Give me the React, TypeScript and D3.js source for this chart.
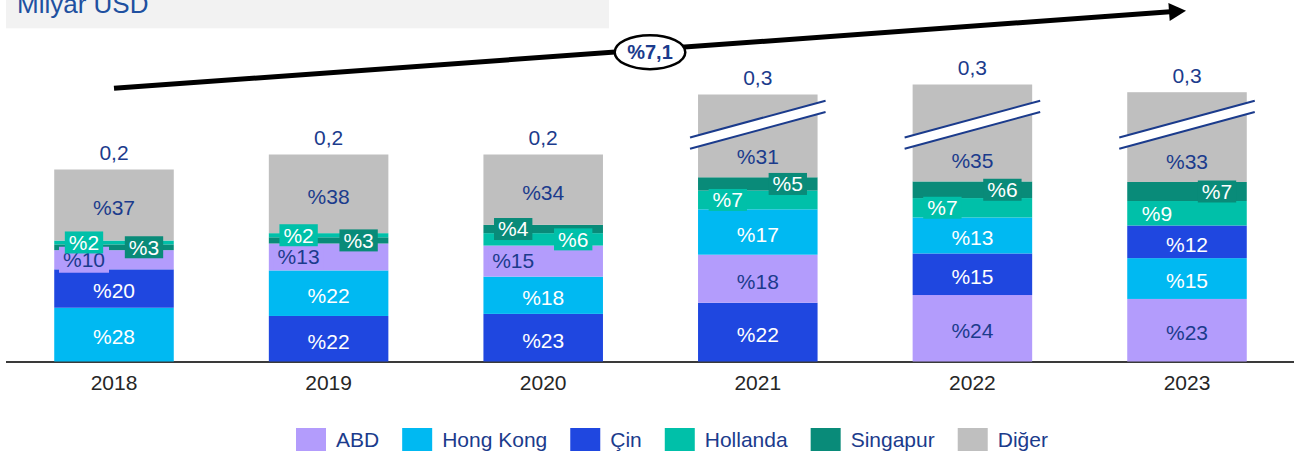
import React from 'react';
import * as d3 from 'd3';

// ---- Data (Milyar USD, shares in %) ----
const years = ['2018', '2019', '2020', '2021', '2022', '2023'];
const totals = [0.192, 0.207, 0.207, 0.267, 0.277, 0.272];
const seriesNames = ['ABD', 'Hong Kong', 'Çin', 'Hollanda', 'Singapur', 'Diğer'];
const abd = [10, 13, 15, 18, 24, 23];
const hongKong = [28, 22, 18, 17, 13, 15];
const cin = [20, 22, 23, 22, 15, 12];
const hollanda = [2, 2, 6, 7, 7, 9];
const singapur = [3, 3, 4, 5, 6, 7];
const diger = [37, 38, 34, 31, 35, 33];
const stackOrder = [
  ['Hong Kong', 'Çin', 'ABD', 'Singapur', 'Hollanda', 'Diğer'],
  ['Çin', 'Hong Kong', 'ABD', 'Singapur', 'Hollanda', 'Diğer'],
  ['Çin', 'Hong Kong', 'ABD', 'Hollanda', 'Singapur', 'Diğer'],
  ['Çin', 'ABD', 'Hong Kong', 'Hollanda', 'Singapur', 'Diğer'],
  ['ABD', 'Çin', 'Hong Kong', 'Hollanda', 'Singapur', 'Diğer'],
  ['ABD', 'Hong Kong', 'Çin', 'Hollanda', 'Singapur', 'Diğer'],
];
const abdSide = ['left', 'left', 'left', 'center', 'center', 'center'];
const hollandaSide = ['left', 'left', 'right', 'left', 'left', 'left'];
const singapurSide = ['right', 'right', 'left', 'right', 'right', 'right'];
const brokenBars = [false, false, false, true, true, true];
const cagrLabel = '%7,1';
const unitLabel = 'Milyar USD';

const seriesValues: Record<string, number[]> = {
  'ABD': abd,
  'Hong Kong': hongKong,
  'Çin': cin,
  'Hollanda': hollanda,
  'Singapur': singapur,
  'Diğer': diger,
};
const sideOf: Record<string, string[]> = {
  'ABD': abdSide,
  'Hollanda': hollandaSide,
  'Singapur': singapurSide,
};

const colors: Record<string, string> = {
  'ABD': '#B39CFC',
  'Hong Kong': '#00B9F2',
  'Çin': '#1F47E0',
  'Hollanda': '#00C0A9',
  'Singapur': '#098B79',
  'Diğer': '#BFBFBF',
};
const textColors: Record<string, string> = {
  'ABD': '#1B3B8C',
  'Hong Kong': '#FFFFFF',
  'Çin': '#FFFFFF',
  'Hollanda': '#FFFFFF',
  'Singapur': '#FFFFFF',
  'Diğer': '#1B3B8C',
};

const W = 1300;
const H = 458;
const FONT = "'Liberation Sans', Arial, sans-serif";
const NAVY = '#1B3B8C';

let ctx: CanvasRenderingContext2D | null = null;
function measure(text: string, size: number, weight = 'normal') {
  if (!ctx) ctx = document.createElement('canvas').getContext('2d');
  if (!ctx) return text.length * size * 0.55;
  ctx.font = `${weight} ${size}px 'Liberation Sans', Arial, sans-serif`;
  return ctx.measureText(text).width;
}

export default function App() {
  const baseline = 361.5;
  const x = d3.scaleBand<string>().domain(years).range([6.7, 1294.3]).paddingInner(0.443).paddingOuter(0.2215);
  const y = d3.scaleLinear().domain([0, 0.3]).range([baseline, 61.5]);
  const bw = x.bandwidth();
  const fmt = d3.format('.1f');
  const labelSize = 21;

  // arrow geometry
  const ax0 = 114, ay0 = 88.3, tipX = 1186, tipY = 10.7;
  const len = Math.hypot(tipX - ax0, tipY - ay0);
  const ux = (tipX - ax0) / len, uy = (tipY - ay0) / len;
  const headL = 17, headW = 9;
  const bx = tipX - ux * headL, by = tipY - uy * headL;
  const head = [
    [tipX, tipY],
    [bx - uy * headW, by + ux * headW],
    [bx + uy * headW, by - ux * headW],
  ];

  const breakY = 124.7;
  const breakSlope = -36.6 / 135;
  const breakGap = 11.3;

  // legend layout
  const legendItems: { name: string; sx: number; tx: number }[] = [];
  let cursor = 296;
  seriesNames.forEach((name) => {
    legendItems.push({ name, sx: cursor, tx: cursor + 40 });
    cursor = cursor + 40 + measure(name, labelSize) + 23;
  });

  return (
    <svg width={W} height={H} style={{ position: 'absolute', left: 0, top: 0, background: '#fff' }} fontFamily={FONT}>
      {/* title box */}
      <rect x={6} y={0} width={603} height={28.3} fill="#F2F2F2" />
      <text x={17} y={13.3} fontSize={26} fill="#2050A0">{unitLabel}</text>

      {/* axis line */}
      <line x1={6} x2={1294} y1={baseline + 0.5} y2={baseline + 0.5} stroke="#3A3A3A" strokeWidth={2} />

      {years.map((yr, i) => {
        const cx = (x(yr) as number) + bw / 2;
        const x0 = x(yr) as number;
        const total = totals[i];
        let acc = 0;
        const segs = stackOrder[i].map((name) => {
          const v = (total * seriesValues[name][i]) / 100;
          const s = { name, y0: acc, y1: acc + v, pct: seriesValues[name][i] };
          acc += v;
          return s;
        });
        const top = y(segs[segs.length - 1].y1);
        const hl = bw / 2 + 8;
        const up = (xx: number) => breakY - breakGap / 2 + breakSlope * (xx - cx);
        const lo = (xx: number) => breakY + breakGap / 2 + breakSlope * (xx - cx);
        const labelOrder = ['Hong Kong', 'Çin', 'Diğer', 'ABD', 'Singapur', 'Hollanda'];
        return (
          <g key={yr}>
            {segs.map((s) => (
              <rect key={s.name} x={x0} width={bw} y={y(s.y1)} height={y(s.y0) - y(s.y1)} fill={colors[s.name]} />
            ))}
            {brokenBars[i] && (
              <g>
                <polygon
                  points={`${cx - hl},${up(cx - hl)} ${cx + hl},${up(cx + hl)} ${cx + hl},${lo(cx + hl)} ${cx - hl},${lo(cx - hl)}`}
                  fill="#fff"
                />
                <line x1={cx - hl} y1={up(cx - hl)} x2={cx + hl} y2={up(cx + hl)} stroke={NAVY} strokeWidth={2} />
                <line x1={cx - hl} y1={lo(cx - hl)} x2={cx + hl} y2={lo(cx + hl)} stroke={NAVY} strokeWidth={2} />
              </g>
            )}
            <text x={cx} y={top - 16.7} dy="0.35em" textAnchor="middle" fontSize={labelSize} fill={NAVY}>
              {fmt(total).replace('.', ',')}
            </text>
            {labelOrder.map((name) => {
              const s = segs.find((d) => d.name === name)!;
              const side = sideOf[name] ? sideOf[name][i] : 'center';
              const lx = side === 'left' ? cx - 30 : side === 'right' ? cx + 30 : cx;
              const boxed = side !== 'center';
              let ly = (y(s.y0) + y(s.y1)) / 2 + (boxed ? 0 : 2.5);
              if (name === 'Diğer' && brokenBars[i]) ly = y(s.y0) - 20.5;
              const txt = `%${s.pct}`;
              const tw = measure(txt, labelSize);
              const bh = name === 'ABD' ? 26 : 22;
              return (
                <g key={name}>
                  {boxed && (
                    <rect x={lx - tw / 2 - 4} y={ly - bh / 2} width={tw + 8} height={bh} fill={colors[name]} />
                  )}
                  <text x={lx} y={ly} dy="0.35em" textAnchor="middle" fontSize={labelSize} fill={textColors[name]}>
                    {txt}
                  </text>
                </g>
              );
            })}
            <text x={cx} y={383} dy="0.35em" textAnchor="middle" fontSize={labelSize} fill="#262626">
              {yr}
            </text>
          </g>
        );
      })}

      {/* growth arrow */}
      <line x1={ax0} y1={ay0} x2={bx + ux} y2={by + uy} stroke="#000" strokeWidth={5} />
      <polygon points={head.map((p) => p.join(',')).join(' ')} fill="#000" />
      <ellipse cx={650} cy={52.2} rx={35.3} ry={17} fill="#fff" stroke="#000" strokeWidth={2.5} />
      <text x={650} y={52.2} dy="0.35em" textAnchor="middle" fontSize={20} fontWeight="bold" fill={NAVY}>
        {cagrLabel}
      </text>

      {/* legend */}
      {legendItems.map((it) => (
        <g key={it.name}>
          <rect x={it.sx} y={428} width={30} height={23} fill={colors[it.name]} />
          <text x={it.tx} y={440} dy="0.35em" fontSize={labelSize} fill={NAVY}>
            {it.name}
          </text>
        </g>
      ))}
    </svg>
  );
}
